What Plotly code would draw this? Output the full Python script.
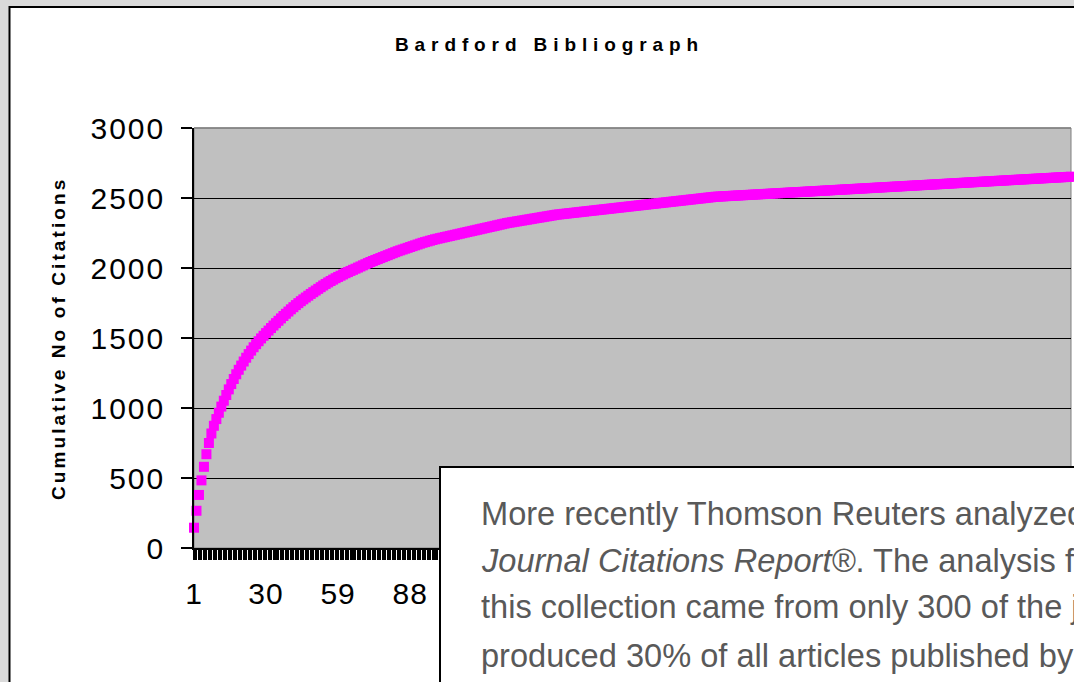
import plotly.graph_objects as go

# ---------------- data ----------------
cumulative_citations = [
    145, 266, 379, 483, 580, 670, 750, 818, 873, 921,
    966, 1010, 1052, 1093, 1133, 1171, 1207, 1241, 1273, 1303,
    1332, 1359, 1385, 1410, 1434, 1456, 1477, 1497, 1516, 1535,
    1553, 1571, 1589, 1606, 1623, 1640, 1657, 1673, 1689, 1705,
    1720, 1735, 1749, 1763, 1776, 1789, 1802, 1815, 1827, 1839,
    1851, 1863, 1875, 1886, 1897, 1907, 1917, 1927, 1936, 1945,
    1954, 1963, 1971, 1979, 1987, 1995, 2003, 2011, 2019, 2027,
    2035, 2043, 2050, 2057, 2064, 2071, 2078, 2085, 2092, 2099,
    2106, 2113, 2120, 2126, 2132, 2138, 2144, 2150, 2156, 2162,
    2168, 2174, 2180, 2185, 2190, 2195, 2200, 2205, 2209, 2213,
    2217, 2221, 2225, 2229, 2233, 2237, 2241, 2245, 2249, 2253,
    2257, 2261, 2265, 2269, 2273, 2277, 2281, 2285, 2289, 2293,
    2297, 2301, 2305, 2309, 2313, 2317, 2321, 2324, 2327, 2330,
    2333, 2336, 2339, 2342, 2345, 2348, 2351, 2354, 2357, 2360,
    2363, 2366, 2369, 2372, 2375, 2378, 2381, 2383, 2385, 2387,
    2389, 2391, 2393, 2395, 2397, 2399, 2401, 2403, 2405, 2407,
    2409, 2411, 2413, 2415, 2417, 2419, 2421, 2423, 2425, 2427,
    2429, 2431, 2433, 2435, 2437, 2439, 2441, 2443, 2445, 2447,
    2449, 2451, 2453, 2455, 2457, 2459, 2461, 2463, 2465, 2467,
    2469, 2471, 2473, 2475, 2477, 2479, 2481, 2483, 2485, 2487,
    2489, 2491, 2493, 2495, 2497, 2499, 2501, 2503, 2505, 2507,
    2509, 2510, 2511, 2512, 2513, 2514, 2515, 2516, 2517, 2518,
    2519, 2520, 2521, 2522, 2523, 2524, 2525, 2526, 2527, 2528,
    2529, 2530, 2531, 2532, 2533, 2534, 2535, 2536, 2537, 2538,
    2539, 2540, 2541, 2542, 2543, 2544, 2545, 2546, 2547, 2548,
    2549, 2550, 2551, 2552, 2553, 2554, 2555, 2556, 2557, 2558,
    2559, 2560, 2561, 2562, 2563, 2564, 2565, 2566, 2567, 2568,
    2569, 2570, 2571, 2572, 2573, 2574, 2575, 2576, 2577, 2578,
    2579, 2580, 2581, 2582, 2583, 2584, 2585, 2586, 2587, 2588,
    2589, 2590, 2591, 2592, 2593, 2594, 2595, 2596, 2597, 2598,
    2599, 2600, 2601, 2602, 2603, 2604, 2605, 2606, 2607, 2608,
    2609, 2610, 2611, 2612, 2613, 2614, 2615, 2616, 2617, 2618,
    2619, 2620, 2621, 2622, 2623, 2624, 2625, 2626, 2627, 2628,
    2629, 2630, 2631, 2632, 2633, 2634, 2635, 2636, 2637, 2638,
    2639, 2640, 2641, 2642, 2643, 2644, 2645, 2646, 2647, 2648,
    2649, 2650, 2651, 2652,
]
journal_rank = list(range(1, len(cumulative_citations) + 1))

# only the labels that are not hidden behind the text box in the reference
x_tick_values = [1, 30, 59, 88]
x_tick_labels = ["1", "30", "59", "88"]
y_tick_values = [0, 500, 1000, 1500, 2000, 2500, 3000]
y_tick_labels = ["0", "500", "1000", "1500", "2000", "2500", "3000"]

chart_title = "Bardford Bibliograph"
y_axis_title = "Cumulative No of Citations"
note_lines = [
    "More recently Thomson Reuters analyzed",
    "<i>Journal Citations Report®</i>. The analysis fo",
    "this collection came from only 300 of the j",
    "produced 30% of all articles published by",
]

# ---------------- layout helpers ----------------
W, H = 1074, 682
PL, PR, PT, PB = 194, 1071, 128, 548   # plot area in pixels


def fx(px):
    return (px - PL) / (PR - PL)


def fy(py):
    return (PB - py) / (PB - PT)


FONT = "Liberation Sans, Arial, sans-serif"


def spaced(text, px):
    return '<span style="letter-spacing:%spx">%s</span>' % (px, text)


fig = go.Figure()
fig.add_trace(go.Scatter(
    x=journal_rank, y=cumulative_citations, mode="markers",
    marker=dict(symbol="square", size=10, color="#ff00ff", line=dict(width=0)),
    cliponaxis=False, hoverinfo="skip",
))

fig.update_layout(
    width=W, height=H,
    margin=dict(l=PL, r=W - PR, t=PT, b=H - PB, pad=0),
    paper_bgcolor="white", plot_bgcolor="#c0c0c0",
    showlegend=False,
    font=dict(family=FONT, color="black"),
    xaxis=dict(
        range=[1, len(cumulative_citations)],
        tickmode="array", tickvals=x_tick_values,
        ticktext=[spaced(t, 1) for t in x_tick_labels],
        ticks="outside", ticklen=10, tickwidth=2, tickcolor="black",
        showline=True, linecolor="black", linewidth=1.5,
        showgrid=False, zeroline=False,
        tickfont=dict(size=30, color="black", family=FONT),
        ticklabelstandoff=8,
        minor=dict(tickmode="linear", tick0=1, dtick=1, ticks="outside",
                   ticklen=10, tickwidth=2, tickcolor="black", showgrid=False),
    ),
    yaxis=dict(
        range=[0, 3000],
        tickmode="array", tickvals=y_tick_values,
        ticktext=[spaced(t, 2) for t in y_tick_labels],
        ticks="outside", ticklen=11, tickwidth=1.5, tickcolor="black",
        showline=True, linecolor="black", linewidth=1.5,
        showgrid=True, gridcolor="black", gridwidth=1,
        zeroline=False,
        tickfont=dict(size=30, color="black", family=FONT),
        ticklabelstandoff=10,
    ),
)

shapes = [
    # grey window surround
    dict(type="rect", xref="paper", yref="paper", x0=fx(-5), x1=fx(9), y0=fy(-5), y1=fy(H + 10),
         fillcolor="#dadada", line=dict(width=0), layer="below"),
    dict(type="rect", xref="paper", yref="paper", x0=fx(-5), x1=fx(W + 10), y0=fy(-5), y1=fy(6),
         fillcolor="#dadada", line=dict(width=0), layer="below"),
    dict(type="line", xref="paper", yref="paper", x0=fx(9.5), x1=fx(9.5), y0=fy(6), y1=fy(H + 10),
         line=dict(color="black", width=2), layer="below"),
    dict(type="line", xref="paper", yref="paper", x0=fx(9.5), x1=fx(W + 10), y0=fy(7), y1=fy(7),
         line=dict(color="black", width=2), layer="below"),
    # plot-area border (grey)
    dict(type="rect", xref="paper", yref="paper", x0=0, x1=1, y0=0, y1=1,
         line=dict(color="#808080", width=1), layer="below"),
    dict(type="line", xref="paper", yref="paper", x0=0, x1=1, y0=1, y1=1,
         line=dict(color="#808080", width=1.5), layer="above"),
    # overlapping text box
    dict(type="rect", xref="paper", yref="paper", x0=fx(440), x1=fx(W + 20), y0=fy(H + 20), y1=fy(467),
         fillcolor="white", line=dict(color="black", width=2), layer="above"),
]
fig.update_layout(shapes=shapes)

annotations = [
    dict(text=spaced(chart_title, 5.9),
         xref="paper", yref="paper", x=fx(549.5), y=fy(44), xanchor="center", yanchor="middle",
         showarrow=False, font=dict(family=FONT, size=19, color="black", weight="bold")),
    dict(text=spaced(y_axis_title, 3.1),
         xref="paper", yref="paper", x=fx(58), y=fy(339), xanchor="center", yanchor="middle",
         textangle=-90, showarrow=False,
         font=dict(family=FONT, size=19, color="black", weight="bold")),
]
line_centres = [513, 560, 606, 655]
for txt, yc in zip(note_lines, line_centres):
    annotations.append(dict(
        text=txt, xref="paper", yref="paper", x=fx(479), y=fy(yc),
        xanchor="left", yanchor="middle", showarrow=False, align="left",
        font=dict(family=FONT, size=32.6, color="#595959")))
fig.update_layout(annotations=annotations)

fig.write_html("out.html",
               config={"displayModeBar": False},
               post_script="document.body.style.margin='0px';"
                           "document.body.style.overflow='hidden';")
